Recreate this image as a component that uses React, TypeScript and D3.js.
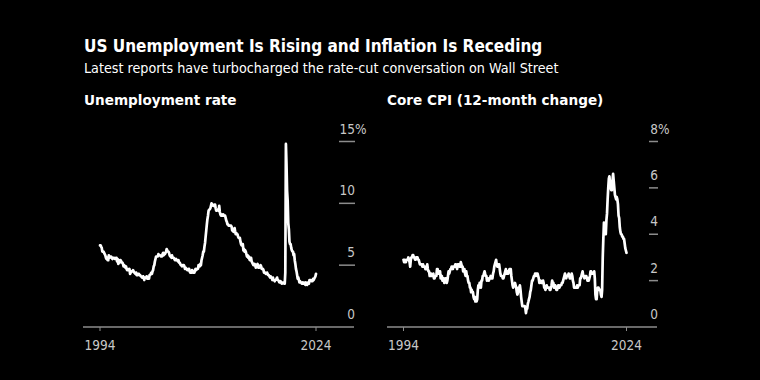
import React, { useEffect } from "react";
import * as d3 from "d3";

const TITLE = "US Unemployment Is Rising and Inflation Is Receding";
const SUBTITLE = "Latest reports have turbocharged the rate-cut conversation on Wall Street";
const PANEL_TITLES = ["Unemployment rate", "Core CPI (12-month change)"];
const START_YEAR = 1994;
const X_TICK_LABELS = ["1994", "2024"];
const UNEMP_TICKS = [0, 5, 10, 15];
const CPI_TICKS = [0, 2, 4, 6, 8];

// Monthly, Jan 1994 – Jul 2024
const unemployment = [
  6.6,6.6,6.5,6.4,6.1,6.1,6.1,6.0,5.9,5.8,5.6,5.5,
  5.6,5.4,5.4,5.8,5.6,5.6,5.7,5.7,5.6,5.5,5.6,5.6,
  5.6,5.5,5.5,5.6,5.6,5.3,5.5,5.1,5.2,5.2,5.4,5.4,
  5.3,5.2,5.2,5.1,4.9,5.0,4.9,4.8,4.9,4.7,4.6,4.7,
  4.6,4.6,4.7,4.3,4.4,4.5,4.5,4.5,4.6,4.5,4.4,4.4,
  4.3,4.4,4.2,4.3,4.2,4.3,4.3,4.2,4.2,4.1,4.1,4.0,
  4.0,4.1,4.0,3.8,4.0,4.0,4.0,4.1,3.9,3.9,3.9,3.9,
  4.2,4.2,4.3,4.4,4.3,4.5,4.6,4.9,5.0,5.3,5.5,5.7,
  5.7,5.7,5.7,5.9,5.8,5.8,5.8,5.7,5.7,5.7,5.9,6.0,
  5.8,5.9,5.9,6.0,6.1,6.3,6.2,6.1,6.1,6.0,5.8,5.7,
  5.7,5.6,5.8,5.6,5.6,5.6,5.5,5.4,5.4,5.5,5.4,5.4,
  5.3,5.4,5.2,5.2,5.1,5.0,5.0,4.9,5.0,5.0,5.0,4.9,
  4.7,4.8,4.7,4.7,4.6,4.6,4.7,4.7,4.5,4.4,4.5,4.4,
  4.6,4.5,4.4,4.5,4.4,4.6,4.7,4.6,4.7,4.7,4.7,5.0,
  5.0,4.9,5.1,5.0,5.4,5.6,5.8,6.1,6.1,6.5,6.8,7.3,
  7.8,8.3,8.7,9.0,9.4,9.5,9.5,9.6,9.8,10.0,9.9,9.9,
  9.8,9.8,9.9,9.9,9.6,9.4,9.4,9.5,9.5,9.4,9.8,9.3,
  9.1,9.0,9.0,9.1,9.0,9.1,9.0,9.0,9.0,8.8,8.6,8.5,
  8.3,8.3,8.2,8.2,8.2,8.2,8.2,8.1,7.8,7.8,7.7,7.9,
  8.0,7.7,7.5,7.6,7.5,7.5,7.3,7.2,7.2,7.2,6.9,6.7,
  6.6,6.7,6.7,6.2,6.3,6.1,6.2,6.1,5.9,5.7,5.8,5.6,
  5.7,5.5,5.4,5.4,5.6,5.3,5.2,5.1,5.0,5.0,5.1,5.0,
  4.8,4.9,5.0,5.1,4.8,4.9,4.8,4.9,5.0,4.9,4.7,4.7,
  4.7,4.6,4.4,4.4,4.4,4.3,4.3,4.4,4.3,4.2,4.2,4.1,
  4.0,4.1,4.0,4.0,3.8,4.0,3.8,3.8,3.7,3.8,3.8,3.9,
  4.0,3.8,3.8,3.7,3.6,3.6,3.7,3.6,3.5,3.6,3.6,3.6,
  3.5,3.5,4.4,14.8,13.2,11.0,10.2,8.4,7.9,6.9,6.7,6.7,
  6.4,6.2,6.1,6.1,5.8,5.9,5.4,5.1,4.7,4.5,4.2,3.9,
  4.0,3.8,3.6,3.7,3.6,3.6,3.5,3.6,3.5,3.6,3.6,3.5,
  3.4,3.6,3.5,3.4,3.6,3.6,3.5,3.8,3.8,3.8,3.7,3.7,
  3.7,3.9,3.8,3.9,4.0,4.1,4.3,
];

const coreCpi = [
  2.9,2.8,2.9,2.8,2.8,2.9,2.9,2.9,3.0,2.9,2.8,2.6,
  2.9,3.0,3.0,3.1,3.1,3.0,3.0,2.9,2.9,3.0,3.0,3.0,
  2.9,2.9,2.8,2.7,2.7,2.7,2.7,2.6,2.7,2.6,2.6,2.6,
  2.5,2.5,2.5,2.7,2.5,2.4,2.4,2.2,2.2,2.3,2.2,2.2,
  2.2,2.3,2.1,2.1,2.2,2.2,2.2,2.5,2.5,2.3,2.3,2.4,
  2.4,2.1,2.1,2.2,2.0,2.1,2.1,1.9,2.0,2.1,2.1,1.9,
  2.0,2.2,2.4,2.3,2.4,2.5,2.5,2.6,2.6,2.5,2.6,2.6,
  2.6,2.7,2.7,2.6,2.5,2.7,2.7,2.7,2.6,2.6,2.8,2.7,
  2.6,2.6,2.4,2.5,2.5,2.3,2.2,2.4,2.2,2.2,2.0,1.9,
  1.9,1.7,1.7,1.5,1.6,1.5,1.5,1.3,1.2,1.3,1.1,1.1,
  1.1,1.2,1.6,1.8,1.7,1.9,1.8,1.7,2.0,2.0,2.2,2.2,
  2.3,2.4,2.3,2.2,2.2,2.0,2.1,2.1,2.0,2.1,2.1,2.2,
  2.1,2.1,2.1,2.3,2.4,2.6,2.7,2.8,2.9,2.7,2.6,2.6,
  2.7,2.7,2.5,2.3,2.2,2.2,2.2,2.1,2.1,2.2,2.3,2.4,
  2.5,2.3,2.4,2.3,2.3,2.4,2.5,2.5,2.5,2.2,2.0,1.8,
  1.7,1.8,1.8,1.9,1.8,1.7,1.5,1.4,1.5,1.7,1.7,1.8,
  1.6,1.3,1.1,0.9,0.9,0.9,0.9,0.9,0.8,0.6,0.8,0.8,
  1.0,1.1,1.2,1.3,1.5,1.6,1.8,2.0,2.0,2.1,2.2,2.2,
  2.3,2.2,2.3,2.3,2.3,2.2,2.1,1.9,2.0,2.0,1.9,1.9,
  1.9,2.0,1.9,1.7,1.7,1.6,1.7,1.8,1.7,1.7,1.7,1.7,
  1.6,1.6,1.7,1.8,2.0,1.9,1.9,1.7,1.7,1.8,1.7,1.6,
  1.6,1.7,1.8,1.8,1.7,1.8,1.8,1.8,1.9,1.9,2.0,2.1,
  2.2,2.3,2.2,2.1,2.2,2.2,2.2,2.3,2.2,2.1,2.1,2.2,
  2.3,2.2,2.0,1.9,1.7,1.7,1.7,1.7,1.7,1.8,1.7,1.8,
  1.8,1.8,2.1,2.1,2.2,2.3,2.4,2.2,2.2,2.1,2.2,2.2,
  2.2,2.1,2.0,2.1,2.0,2.1,2.2,2.4,2.4,2.3,2.3,2.3,
  2.3,2.4,2.1,1.4,1.2,1.2,1.6,1.7,1.7,1.6,1.6,1.6,
  1.4,1.3,1.6,3.0,3.8,4.5,4.3,4.0,4.0,4.6,4.9,5.5,
  6.0,6.4,6.5,6.2,6.0,5.9,5.9,6.3,6.6,6.3,6.0,5.7,
  5.6,5.5,5.6,5.5,5.3,4.8,4.7,4.3,4.1,4.0,4.0,3.9,
  3.9,3.8,3.8,3.6,3.4,3.3,3.2,
];

const COND = "'DejaVu Sans Condensed', 'DejaVu Sans', sans-serif";
const BOLD = "'DejaVu Sans', sans-serif";

type PanelProps = {
  title: string;
  data: number[];
  ticks: number[];
  yMax: number;
  titleX: number;
  axisX0: number;
  axisX1: number;
  plotX0: number;
  plotX1: number;
  tickX0: number;
  labelX: number;
};

function Panel(p: PanelProps) {
  const baseY = 327;
  const topY = 141.5;
  const dates = p.data.map((_, i) => new Date(START_YEAR, i, 1));
  const x = d3
    .scaleTime()
    .domain([dates[0], dates[dates.length - 1]])
    .range([p.plotX0, p.plotX1]);
  const y = d3.scaleLinear().domain([0, p.yMax]).range([baseY, topY]);
  const line = d3
    .line<number>()
    .x((_, i) => x(dates[i]))
    .y((d) => y(d));
  const xTicks = [dates[0], dates[dates.length - 1]];
  const grey = "#8c8c8c";
  const labelColor = "#c8c8c8";
  return (
    <g>
      <text x={p.titleX} y={105} fill="#fff" fontFamily={BOLD} fontWeight="bold" fontSize={13.6}>
        {p.title}
      </text>
      <line x1={p.axisX0} x2={p.axisX1} y1={baseY} y2={baseY} stroke={grey} strokeWidth={1.5} />
      {xTicks.map((d, i) => (
        <g key={i}>
          <line x1={x(d)} x2={x(d)} y1={baseY} y2={baseY + 4} stroke={grey} strokeWidth={1} />
          <text x={x(d)} y={350} textAnchor="middle" fill={labelColor} fontFamily={COND} fontSize={13.5}>
            {X_TICK_LABELS[i]}
          </text>
        </g>
      ))}
      {p.ticks.map((t, i) => (
        <g key={t}>
          {t !== 0 && (
            <line x1={p.tickX0} x2={p.labelX} y1={y(t)} y2={y(t)} stroke={grey} strokeWidth={1.5} />
          )}
          <text x={p.labelX} y={y(t) - 8} textAnchor="end" fill={labelColor} fontFamily={COND} fontSize={13.5}>
            {t}
          </text>
          {i === p.ticks.length - 1 && (
            <text x={p.labelX} y={y(t) - 8} textAnchor="start" fill={labelColor} fontFamily={COND} fontSize={13.5}>
              %
            </text>
          )}
        </g>
      ))}
      <path d={line(p.data) || ""} fill="none" stroke="#fff" strokeWidth={2.7} strokeLinejoin="round" strokeLinecap="round" />
    </g>
  );
}

export default function App() {
  useEffect(() => {
    document.body.style.margin = "0";
    document.body.style.background = "#000";
  }, []);
  return (
    <svg width={760} height={380} style={{ display: "block", position: "absolute", left: 0, top: 0, background: "#000" }}>
      <rect width={760} height={380} fill="#000" />
      <text x={84} y={52} fill="#fff" fontFamily={COND} fontWeight="bold" fontSize={17}>
        {TITLE}
      </text>
      <text x={84} y={73} fill="#fff" fontFamily={COND} fontSize={14.2}>
        {SUBTITLE}
      </text>
      <Panel
        title={PANEL_TITLES[0]}
        data={unemployment}
        ticks={UNEMP_TICKS}
        yMax={15}
        titleX={84}
        axisX0={83}
        axisX1={354}
        plotX0={100}
        plotX1={316}
        tickX0={339}
        labelX={355}
      />
      <Panel
        title={PANEL_TITLES[1]}
        data={coreCpi}
        ticks={CPI_TICKS}
        yMax={8}
        titleX={387}
        axisX0={387}
        axisX1={657}
        plotX0={403.5}
        plotX1={626.5}
        tickX0={649}
        labelX={658}
      />
    </svg>
  );
}
